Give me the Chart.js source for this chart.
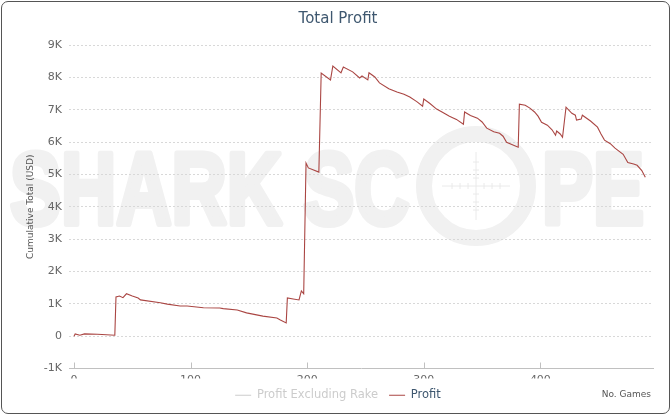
<!DOCTYPE html>
<html lang="en">
  <head>
    <meta charset="UTF-8" />
    <title>Total Profit</title>
    <style>
      * {
        margin: 0;
        padding: 0;
        box-sizing: border-box;
      }
      body {
        background: #fff;
      }
      .chartCard {
        position: relative;
        width: 671px;
        height: 416px;
      }
      .chartCard canvas {
        position: absolute;
        left: 0;
        top: 0;
      }
      .frame {
        position: absolute;
        left: 1px;
        top: 1px;
        width: 669px;
        height: 413px;
        border: 1.5px solid #555;
        border-radius: 7px;
        pointer-events: none;
      }
    </style>
  </head>
  <body>
    <div class="chartCard">
      <canvas id="myChart" width="671" height="416"></canvas>
      <div class="frame"></div>
    </div>

    <script src="https://cdn.jsdelivr.net/npm/chart.js"></script>
    <script>
      // games played (x) and cumulative profit in USD (y)
      const games = [
        0, 1, 5, 9, 20, 24, 35, 36, 39, 42, 45, 50, 55, 57, 74, 80, 91, 97,
        111, 125, 128, 140, 148, 162, 174, 177, 182, 183, 188, 193, 195, 197,
        199, 201, 210, 212, 220, 222, 229, 231, 239, 245, 247, 252, 253, 258,
        262, 270, 277, 283, 288, 294, 299, 300, 305, 311, 316, 322, 328, 334,
        335, 340, 346, 350, 354, 360, 365, 368, 371, 376, 381, 382, 387, 391,
        395, 398, 401, 406, 410, 413, 414, 417, 419, 422, 427, 430, 431, 435,
        436, 443, 449, 452, 455, 460, 464, 471, 475, 480, 483, 487, 490,
      ];
      const profit = [
        0, 70, 30, 70, 60, 50, 30, 1210, 1240, 1190, 1310, 1240, 1180, 1120,
        1030, 990, 930, 930, 880, 870, 850, 810, 720, 620, 560, 500, 410, 1180,
        1150, 1120, 1400, 1310, 5350, 5200, 5070, 8130, 7920, 8350, 8140, 8320,
        8170, 7980, 8040, 7920, 8140, 8010, 7830, 7650, 7550, 7480, 7390, 7250,
        7110, 7330, 7200, 7020, 6920, 6800, 6700, 6550, 6930, 6820, 6740, 6620,
        6430, 6320, 6270, 6180, 5990, 5920, 5840, 7170, 7140, 7050, 6930, 6800,
        6610, 6520, 6380, 6210, 6340, 6250, 6150, 7080, 6890, 6830, 6680, 6710,
        6830, 6650, 6460, 6250, 6060, 5950, 5810, 5620, 5370, 5320, 5280, 5120,
        4910,
      ];
      const seriesNames = ["Profit Excluding Rake", "Profit"];
      const xTicks = [0, 100, 200, 300, 400];
      const yTicks = [-1000, 0, 1000, 2000, 3000, 4000, 5000, 6000, 7000, 8000, 9000];

      const fontFamily = '"Lucida Grande", "DejaVu Sans", sans-serif';
      Chart.defaults.font.family = fontFamily;

      const ctx = document.getElementById("myChart");

      const data = {
        datasets: [
          {
            label: seriesNames[0],
            data: [],
            hidden: true,
            borderColor: "#4572A7",
          },
          {
            label: seriesNames[1],
            data: games.map((g, i) => ({ x: g, y: profit[i] })),
            borderColor: "#AA4643",
            borderWidth: 1.1,
            pointRadius: 0,
            tension: 0,
          },
        ],
      };

      // faint logo behind the plot
      const watermark = {
        id: "watermark",
        beforeDraw(chart) {
          const { ctx } = chart;
          const shade = "#f1f1f1";
          ctx.save();
          ctx.fillStyle = shade;
          ctx.strokeStyle = shade;
          ctx.lineWidth = 6;
          ctx.lineJoin = "round";
          ctx.font = 'bold 102px "Liberation Sans"';
          ctx.textBaseline = "alphabetic";
          [["SHARK SC", 10], ["PE", 542]].forEach(([word, left]) => {
            ctx.save();
            ctx.translate(left, 224);
            ctx.scale(0.75, 1);
            ctx.fillText(word, 0, 0);
            ctx.strokeText(word, 0, 0);
            ctx.restore();
          });
          ctx.lineWidth = 16;
          ctx.beginPath();
          ctx.arc(476, 186, 52, 0, Math.PI * 2);
          ctx.stroke();
          ctx.strokeStyle = "#eaeaea";
          ctx.lineWidth = 1;
          ctx.beginPath();
          ctx.moveTo(442, 186);
          ctx.lineTo(510, 186);
          ctx.moveTo(476, 152);
          ctx.lineTo(476, 220);
          for (let d = -24; d <= 24; d += 8) {
            if (d === 0) continue;
            ctx.moveTo(476 + d, 183);
            ctx.lineTo(476 + d, 189);
            ctx.moveTo(473, 186 + d);
            ctx.lineTo(479, 186 + d);
          }
          ctx.stroke();
          ctx.restore();
        },
      };

      // short tick marks on the x axis and the axis caption on the legend row
      const axisExtras = {
        id: "axisExtras",
        afterDraw(chart) {
          const {
            ctx,
            chartArea,
            legend,
            scales: { x },
          } = chart;
          ctx.save();
          ctx.strokeStyle = "#C0C0C0";
          ctx.lineWidth = 1;
          ctx.beginPath();
          xTicks.forEach((t) => {
            const px = Math.round(x.getPixelForValue(t)) + 0.5;
            ctx.moveTo(px, chartArea.bottom);
            ctx.lineTo(px, chartArea.bottom - 6);
          });
          ctx.stroke();
          ctx.fillStyle = "#555";
          ctx.font = "9px " + fontFamily;
          ctx.textAlign = "right";
          ctx.textBaseline = "middle";
          ctx.fillText("No. Games", chartArea.right - 2, legend.top + legend.height / 2);
          ctx.restore();
        },
      };

      const config = {
        type: "line",
        data: data,
        options: {
          responsive: false,
          animation: false,
          layout: {
            padding: { left: 23, right: 18, top: 0, bottom: 5 },
          },
          plugins: {
            title: {
              display: true,
              text: "Total Profit",
              color: "#3E576F",
              font: { size: 15, weight: "normal" },
              padding: { top: 10, bottom: 17 },
            },
            legend: {
              position: "bottom",
              labels: {
                usePointStyle: true,
                pointStyleWidth: 16,
                padding: 11,
                font: { size: 11.5 },
                generateLabels: (chart) =>
                  chart.data.datasets.map((ds, i) => ({
                    text: ds.label,
                    datasetIndex: i,
                    hidden: false,
                    pointStyle: "line",
                    lineWidth: 1.2,
                    strokeStyle: i === 0 ? "#CCC" : "#AA4643",
                    fillStyle: i === 0 ? "#CCC" : "#AA4643",
                    fontColor: i === 0 ? "#CCC" : "#3E576F",
                  })),
              },
            },
            tooltip: { enabled: false },
          },
          scales: {
            x: {
              type: "linear",
              min: -4.3,
              max: 496.6,
              afterBuildTicks: (s) => {
                s.ticks = xTicks.map((v) => ({ value: v }));
              },
              afterFit: (s) => {
                s.height = 10;
              },
              grid: { display: true, drawOnChartArea: false, drawTicks: false },
              border: { display: true, color: "#C0C0C0" },
              ticks: {
                color: "#666",
                font: { size: 11 },
                padding: 5,
                maxRotation: 0,
              },
            },
            y: {
              min: -1000,
              max: 9000,
              afterBuildTicks: (s) => {
                s.ticks = yTicks.map((v) => ({ value: v }));
              },
              afterFit: (s) => {
                s.width = 46;
              },
              grid: {
                color: (c) => (c.tick && c.tick.value === -1000 ? "rgba(0,0,0,0)" : "#D8D8D8"),
                drawTicks: false,
              },
              border: { display: false, dash: [2, 2] },
              ticks: {
                color: "#666",
                font: { size: 11 },
                padding: 7,
                callback: (v) => (v === 0 ? "0" : v / 1000 + "K"),
              },
              title: {
                display: true,
                text: "Cumulative Total (USD)",
                color: "#555",
                font: { size: 9 },
                padding: { top: 2, bottom: 0 },
              },
            },
          },
        },
        plugins: [watermark, axisExtras],
      };

      const myChart = new Chart(ctx, config);
    </script>
  </body>
</html>
